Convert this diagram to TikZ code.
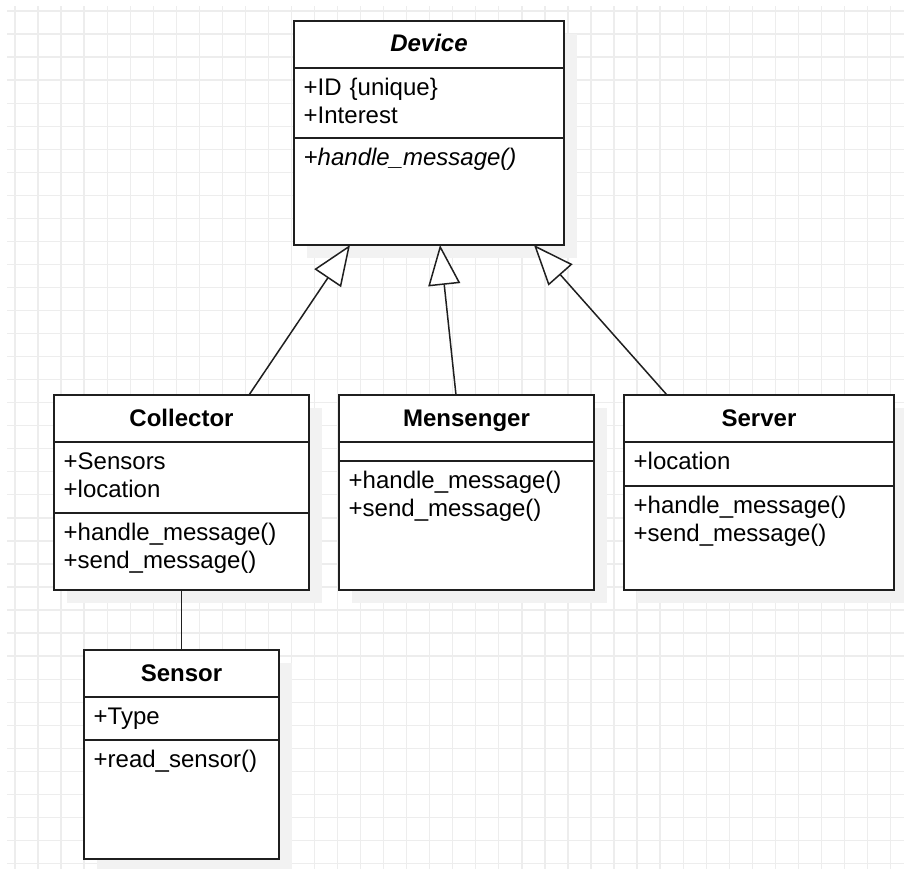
\documentclass[tikz,border=0pt]{standalone}
\usepackage{fontspec}
\setmainfont{Liberation Sans}
\usetikzlibrary{arrows.meta,positioning,shadows}

\begin{document}
\begin{tikzpicture}[x=1pt,y=-1pt,
  every node/.style={font=\fontsize{24pt}{28pt}\selectfont},
  gridline/.style={draw=black!7,line width=1.3pt},
  compartment/.style={draw=black!88,line width=1.5pt,fill=white,outer sep=0pt,inner sep=0pt,
    drop shadow={shadow xshift=13pt,shadow yshift=-13pt,draw=none,fill=black!5,opacity=1}},
  classhead/.style={compartment,minimum height=47pt,text height=18pt,text depth=3pt,
    font=\fontsize{24pt}{28pt}\selectfont\bfseries},
  members/.style={anchor=base west,align=left,text width=230pt,inner sep=0pt},
  inherit/.style={draw=black!88,line width=1.5pt,-{Triangle[open,fill=white,length=40pt,width=32pt]}},
  link/.style={draw=black!88,line width=1.5pt}]
  \useasboundingbox (0,0) rectangle (904,869);
  \fill[white] (0,0) rectangle (904,869);
  \draw[gridline,shift={(15,11)},step=23.04pt] (-8,858) grid (889,-5);

  % abstract base class
  \node[classhead,minimum width=270pt] (device) at (429,44.5) {\textit{Device}};
  \node[compartment,minimum width=270pt,minimum height=70pt,below=0pt of device] (device-attr) {};
  \node[compartment,minimum width=270pt,minimum height=107pt,below=0pt of device-attr] (device-meth) {};
  \node[members] (device-attr-text) at ([shift={(9.5pt,-27.5pt)}]device-attr.north west) {+ID \{unique\}\\+Interest};
  \node[members] (device-meth-text) at ([shift={(9.5pt,-27.5pt)}]device-meth.north west) {\textit{+handle\_message()}};

  % subclasses
  \node[classhead,minimum width=255pt] (collector) at (181.5,418.5) {Collector};
  \node[compartment,minimum width=255pt,minimum height=71pt,below=0pt of collector] (collector-attr) {};
  \node[compartment,minimum width=255pt,minimum height=77pt,below=0pt of collector-attr] (collector-meth) {};
  \node[members] (collector-attr-text) at ([shift={(9.5pt,-27.5pt)}]collector-attr.north west) {+Sensors\\+location};
  \node[members] (collector-meth-text) at ([shift={(9.5pt,-27.5pt)}]collector-meth.north west) {+handle\_message()\\+send\_message()};

  \node[classhead,minimum width=255pt] (mensenger) at (466.5,418.5) {Mensenger};
  \node[compartment,minimum width=255pt,minimum height=19pt,below=0pt of mensenger] (mensenger-attr) {};
  \node[compartment,minimum width=255pt,minimum height=129pt,below=0pt of mensenger-attr] (mensenger-meth) {};
  \node[members] (mensenger-meth-text) at ([shift={(9.5pt,-27.5pt)}]mensenger-meth.north west) {+handle\_message()\\+send\_message()};

  \node[classhead,minimum width=270pt] (server) at (759,418.5) {Server};
  \node[compartment,minimum width=270pt,minimum height=44pt,below=0pt of server] (server-attr) {};
  \node[compartment,minimum width=270pt,minimum height=104pt,below=0pt of server-attr] (server-meth) {};
  \node[members] (server-attr-text) at ([shift={(9.5pt,-27.5pt)}]server-attr.north west) {+location};
  \node[members] (server-meth-text) at ([shift={(9.5pt,-27.5pt)}]server-meth.north west) {+handle\_message()\\+send\_message()};

  % part of collector
  \node[classhead,minimum width=195pt] (sensor) at (181.5,673.5) {Sensor};
  \node[compartment,minimum width=195pt,minimum height=43pt,below=0pt of sensor] (sensor-attr) {};
  \node[compartment,minimum width=195pt,minimum height=119pt,below=0pt of sensor-attr] (sensor-meth) {};
  \node[members] (sensor-attr-text) at ([shift={(9.5pt,-27.5pt)}]sensor-attr.north west) {+Type};
  \node[members] (sensor-meth-text) at ([shift={(9.5pt,-27.5pt)}]sensor-meth.north west) {+read\_sensor()};

  \draw[inherit] ([xshift=67.5pt]collector.north) -- ([xshift=-79pt]device-meth.south);
  \draw[inherit] ([xshift=-10.5pt]mensenger.north) -- ([xshift=11pt]device-meth.south);
  \draw[inherit] ([xshift=-92pt]server.north) -- ([xshift=105pt]device-meth.south);
  \draw[link] (collector-meth.south) -- (sensor.north);
\end{tikzpicture}
\end{document}
